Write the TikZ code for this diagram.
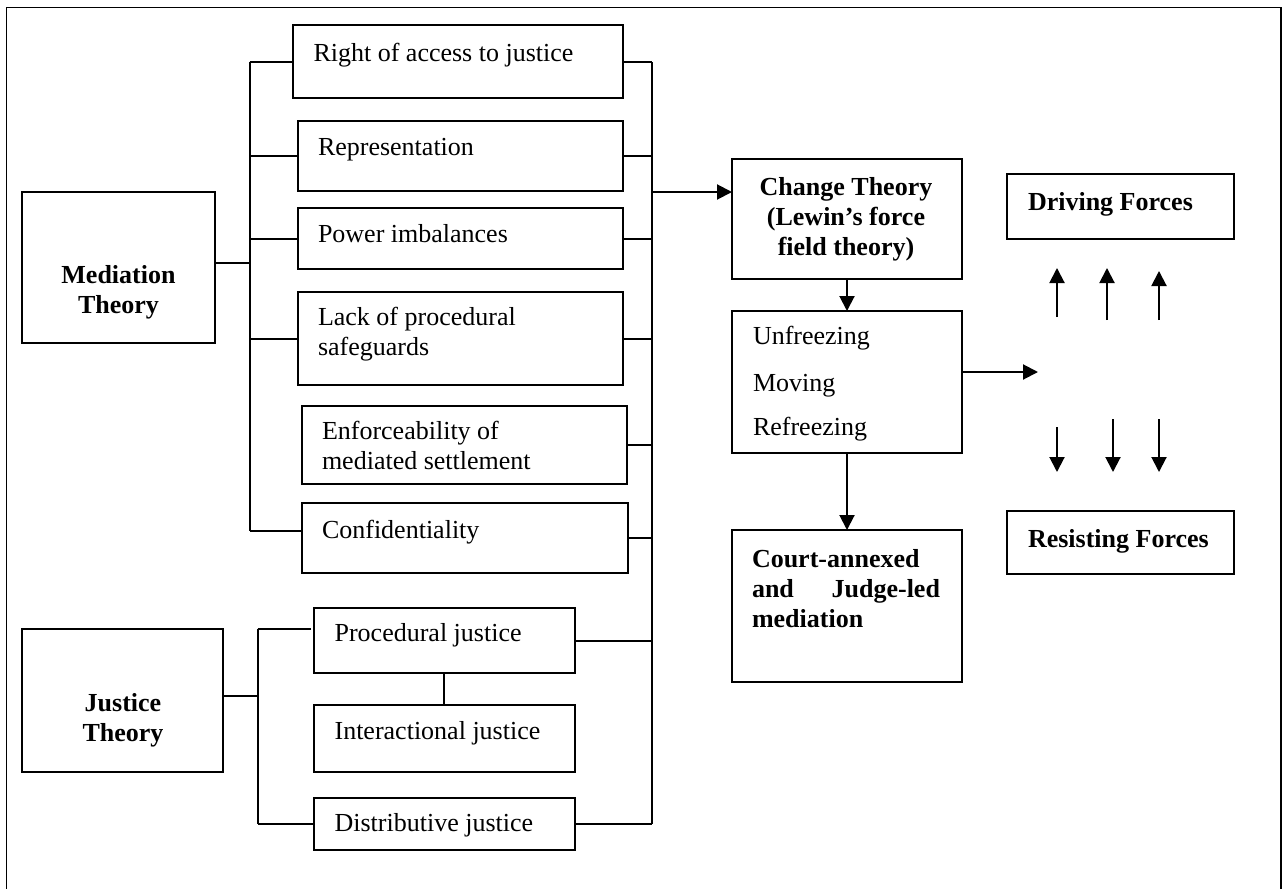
\documentclass[tikz,border=0pt]{standalone}
\usepackage{fontspec}
\setmainfont{Liberation Serif}
\usetikzlibrary{arrows.meta}
\begin{document}
\begin{tikzpicture}[x=1pt,y=-1pt,
  box/.style={draw, line width=2pt, inner sep=0pt, outer sep=0pt},
  txt/.style={inner sep=0pt, outer sep=0pt, font=\fontsize{26}{30}\selectfont, align=left},
  btxt/.style={inner sep=0pt, outer sep=0pt, font=\fontsize{26}{30}\selectfont\bfseries},
  conn/.style={line width=2pt},
  arr/.style={line width=2pt, -{Triangle[length=15pt,width=15pt]}}]
\useasboundingbox (0,0) rectangle (1288,889);
% outer frame
\draw[line width=1.8pt] (6.5,889) |- (1280.7,7.5) -- (1280.7,889);

% mediation side boxes
\node[box, minimum width=330pt, minimum height=73pt] (acc)   at (458,61.5) {};
\node[box, minimum width=325pt, minimum height=70pt] (rep)   at (460.5,156) {};
\node[box, minimum width=325pt, minimum height=61pt] (pow)   at (460.5,238.5) {};
\node[box, minimum width=325pt, minimum height=93pt] (lack)  at (460.5,338.5) {};
\node[box, minimum width=325pt, minimum height=78pt] (enf)   at (464.5,445) {};
\node[box, minimum width=326pt, minimum height=70pt] (conf)  at (465,538) {};
\node[box, minimum width=193pt, minimum height=151pt] (med)  at (118.5,267.5) {};
% justice side boxes
\node[box, minimum width=201pt, minimum height=143pt] (just) at (122.5,700.5) {};
\node[box, minimum width=261pt, minimum height=65pt] (proc)  at (444,640.5) {};
\node[box, minimum width=261pt, minimum height=67pt] (inter) at (444,738.5) {};
\node[box, minimum width=261pt, minimum height=52pt] (dist)  at (444,824) {};
% change side boxes
\node[box, minimum width=230pt, minimum height=120pt] (change) at (847,219) {};
\node[box, minimum width=230pt, minimum height=142pt] (unf)    at (847,382) {};
\node[box, minimum width=230pt, minimum height=152pt] (court)  at (847,606) {};
\node[box, minimum width=227pt, minimum height=65pt] (drive)   at (1120.5,206.5) {};
\node[box, minimum width=227pt, minimum height=63pt] (resist)  at (1120.5,542.5) {};

% texts (multi-line nodes: base = last line)
\node[txt, anchor=base west] (tacc)  at (313.5,61) {Right of access to justice};
\node[txt, anchor=base west] (trep)  at (318,155) {Representation};
\node[txt, anchor=base west] (tpow)  at (318,242) {Power imbalances};
\node[txt, anchor=base west] (tlack) at (318,355) {Lack of procedural\\safeguards};
\node[txt, anchor=base west] (tenf)  at (322,469) {Enforceability of\\mediated settlement};
\node[txt, anchor=base west] (tconf) at (322,538) {Confidentiality};
\node[btxt, anchor=base, align=center] (tmed) at (118.5,313) {Mediation\\Theory};
\node[btxt, anchor=base, align=center] (tjust) at (123,741.7) {Justice\\Theory};
\node[txt, anchor=base west] (tproc)  at (334.6,641.7) {Procedural justice};
\node[txt, anchor=base west] (tinter) at (334.6,739.3) {Interactional justice};
\node[txt, anchor=base west] (tdist)  at (334.6,831.7) {Distributive justice};
\node[btxt, anchor=base, align=center] (tchange) at (846,255) {Change Theory\\(Lewin’s force\\field theory)};
\node[txt, anchor=base west] (tunf) at (753,435) {Unfreezing\\[17pt]Moving\\[14pt]Refreezing};
\node[btxt, anchor=base west] (tcourt) at (752,567) {\parbox[t]{188pt}{Court-annexed\\and\hfill Judge-led\\mediation}};
\node[btxt, anchor=base west] (tdrive)  at (1028,210) {Driving Forces};
\node[btxt, anchor=base west] (tresist) at (1028,547) {Resisting Forces};

% mediation bracket
\coordinate (lbT) at (249.6,62);
\coordinate (lbB) at (249.6,531);
\coordinate (mj)  at (249.6,263);
\draw[conn] (lbT) -- (lbB);
\draw[conn] (med.east |- mj) -- (mj);
\draw[conn] (lbT) -- (acc.west |- lbT);
\draw[conn] (lbT |- rep.west) -- (rep.west);
\draw[conn] (lbT |- pow.west) -- (pow.west);
\draw[conn] (lbT |- lack.west) -- (lack.west);
\draw[conn] (lbB) -- (conf.west |- lbB);

% right bracket
\coordinate (rbT) at (651.5,62);
\coordinate (rbB) at (651.5,824);
\coordinate (rbA) at (651.5,192);
\draw[conn] (rbT) -- (rbB);
\draw[conn] (acc.east |- rbT) -- (rbT);
\draw[conn] (rep.east) -- (rbT |- rep.east);
\draw[conn] (pow.east) -- (rbT |- pow.east);
\draw[conn] (lack.east) -- (rbT |- lack.east);
\draw[conn] (enf.east) -- (rbT |- enf.east);
\draw[conn] (conf.east) -- (rbT |- conf.east);
\draw[conn] (proc.east) -- (rbT |- proc.east);
\draw[conn] (dist.east) -- (rbB);
\draw[arr] (rbA) -- (change.west |- rbA);

% justice bracket
\coordinate (jbT) at (257.6,629.3);
\coordinate (jbB) at (257.6,824);
\coordinate (jbM) at (257.6,695.7);
\coordinate (jtE) at (310.6,629.3);
\draw[conn] (jbT) -- (jbB);
\draw[conn] (just.east |- jbM) -- (jbM);
\draw[conn] (jbT) -- (jtE);
\draw[conn] (jbB) -- (dist.west);
\draw[conn] (proc.south -| inter.north) -- (inter.north);

% change theory flow
\draw[arr] (change.south) -- (unf.north);
\draw[arr] (unf.south) -- (court.north);
\coordinate (fr) at (1038,372);
\draw[arr] (unf.east |- fr) -- (fr);

% force arrows
\coordinate (u1a) at (1057,317); \coordinate (u1b) at (1057,268);
\coordinate (u2a) at (1107,320); \coordinate (u2b) at (1107,268);
\coordinate (u3a) at (1159,320); \coordinate (u3b) at (1159,271);
\draw[arr] (u1a) -- (u1b);
\draw[arr] (u2a) -- (u2b);
\draw[arr] (u3a) -- (u3b);
\coordinate (d1a) at (1057,427); \coordinate (d1b) at (1057,472);
\coordinate (d2a) at (1113,419); \coordinate (d2b) at (1113,472);
\coordinate (d3a) at (1159,419); \coordinate (d3b) at (1159,472);
\draw[arr] (d1a) -- (d1b);
\draw[arr] (d2a) -- (d2b);
\draw[arr] (d3a) -- (d3b);
\end{tikzpicture}
\end{document}
